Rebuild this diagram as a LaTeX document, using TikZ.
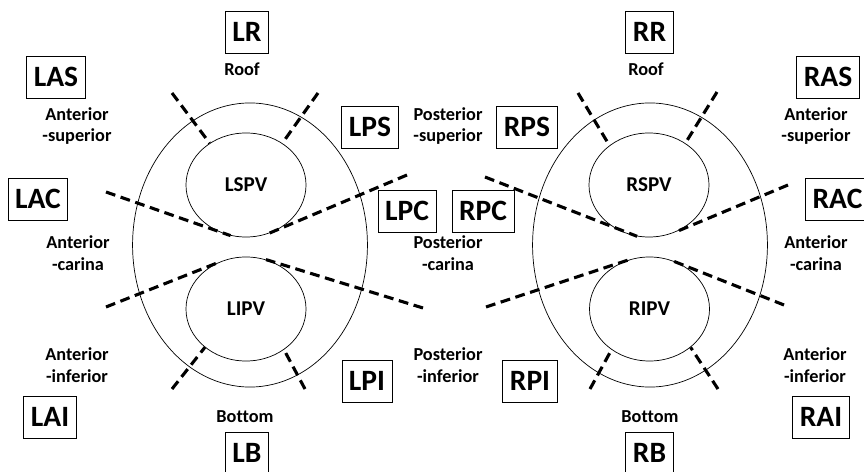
\documentclass[tikz,border=0pt]{standalone}
\usepackage{fontspec}
\setmainfont{Carlito}[Ligatures=CommonOff]
\usetikzlibrary{shapes}

\begin{document}
\begin{tikzpicture}[
			x = 0.025cm, y = -0.025cm,
			seg/.style = {draw, rectangle, line width = 0.6pt, minimum height = 1.05cm, inner xsep = 5pt, font = \fontsize{21}{24}\selectfont\bfseries},
			lbl/.style = {align = center, font = \fontsize{13}{15.6}\selectfont\bfseries},
			vein/.style = {draw, ellipse, line width = 0.5pt, inner sep = 0pt, minimum width = 3cm, minimum height = 2.6cm, font = \fontsize{15}{17}\selectfont\bfseries},
			atrium/.style = {draw, ellipse, line width = 0.5pt, inner sep = 0pt, minimum width = 5.87cm, minimum height = 7.1cm},
			cut/.style = {line width = 2.2pt, dash pattern = on 7pt off 4pt}]
			\useasboundingbox (0,0) rectangle (864,472);

			% Left atrium
			\node[atrium] (la) at (250,245) {};
			\node[vein] (lspv) at (246,185) {LSPV};
			\node[vein] (lipv) at (246,309) {LIPV};

			% Right atrium
			\node[atrium] (ra) at (650,245) {};
			\node[vein] (rspv) at (649,185) {RSPV};
			\node[vein] (ripv) at (649.5,309) {RIPV};

			% Segment boxes
			\node[seg] (lr) at (247,32) {LR};
			\node[seg] (las) at (56,77) {LAS};
			\node[seg] (lps) at (370,127) {LPS};
			\node[seg] (lac) at (38,199) {LAC};
			\node[seg] (lpc) at (407,211) {LPC};
			\node[seg] (lai) at (50,417) {LAI};
			\node[seg] (lpi) at (367,381) {LPI};
			\node[seg] (lb) at (247,453) {LB};

			\node[seg] (rr) at (649.5,32) {RR};
			\node[seg] (ras) at (828,77) {RAS};
			\node[seg] (rps) at (527,127) {RPS};
			\node[seg] (rac) at (837.5,199) {RAC};
			\node[seg] (rpc) at (483,211) {RPC};
			\node[seg] (rai) at (821,417) {RAI};
			\node[seg] (rpi) at (530,381) {RPI};
			\node[seg] (rb) at (649.5,453) {RB};

			% Labels
			\node[lbl] (lroof) at (242,69) {Roof};
			\node[lbl] (rroof) at (646,69) {Roof};
			\node[lbl] (lbottom) at (245,417) {Bottom};
			\node[lbl] (rbottom) at (650,417) {Bottom};
			\node[lbl] (lantsup) at (77,126) {Anterior\\-superior};
			\node[lbl] (rantsup) at (816,126) {Anterior\\-superior};
			\node[lbl] (postsup) at (448,126) {Posterior\\-superior};
			\node[lbl] (lantcar) at (78,253) {Anterior\\-carina};
			\node[lbl] (rantcar) at (816,253) {Anterior\\-carina};
			\node[lbl] (postcar) at (448,253) {Posterior\\-carina};
			\node[lbl] (lantinf) at (77,365) {Anterior\\-inferior};
			\node[lbl] (rantinf) at (815,365) {Anterior\\-inferior};
			\node[lbl] (postinf) at (448,365) {Posterior\\-inferior};

			% Dividing lines
			\coordinate (l1) at (172,93);
			\coordinate (l2) at (318,93);
			\coordinate (l3) at (106,192);
			\coordinate (l4) at (407,175);
			\coordinate (l5) at (106,307);
			\coordinate (l6) at (423,308);
			\coordinate (l7) at (172,389);
			\coordinate (l8) at (305,389);
			\draw[cut] (l1) -- (lspv.131);
			\draw[cut] (l2) -- (lspv.49);
			\draw[cut] (l3) -- (lspv.253);
			\draw[cut] (l4) -- (lspv.294);
			\draw[cut] (l5) -- (lipv.121);
			\draw[cut] (l6) -- (lipv.68);
			\draw[cut] (l7) -- (lipv.223);
			\draw[cut] (l8) -- (lipv.313);

			\coordinate (r1) at (578,93);
			\coordinate (r2) at (717,92);
			\coordinate (r3) at (485,177);
			\coordinate (r4) at (788,185);
			\coordinate (r5) at (486,307);
			\coordinate (r6) at (784,305);
			\coordinate (r7) at (590,389);
			\coordinate (r8) at (718,389);
			\draw[cut] (r1) -- (rspv.135);
			\draw[cut] (r2) -- (rspv.49);
			\draw[cut] (r3) -- (rspv.257);
			\draw[cut] (r4) -- (rspv.298);
			\draw[cut] (r5) -- (ripv.113);
			\draw[cut] (r6) -- (ripv.68);
			\draw[cut] (r7) -- (ripv.227);
			\draw[cut] (r8) -- (ripv.317);
		\end{tikzpicture}
\end{document}
